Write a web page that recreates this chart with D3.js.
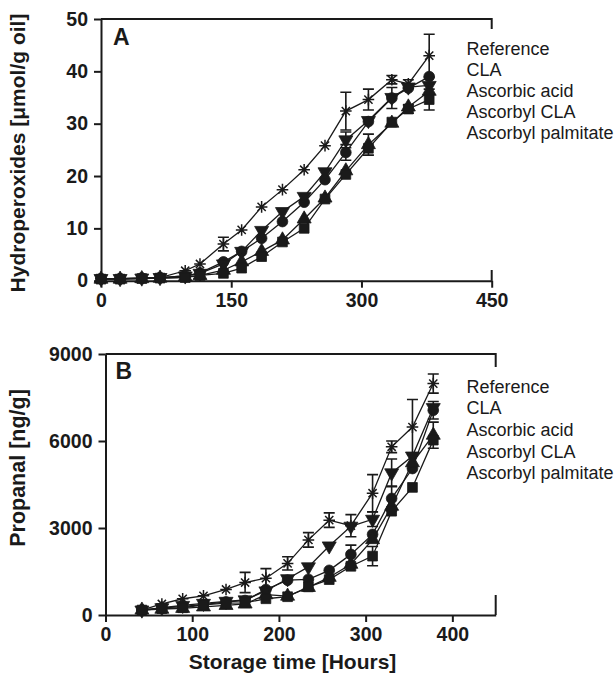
<!DOCTYPE html>
<html><head><meta charset="utf-8">
<script src="https://cdn.jsdelivr.net/npm/d3@7"></script>
<style>
html,body{margin:0;padding:0;background:#fff;}
svg{display:block;font-family:"Liberation Sans",Arial,Helvetica,sans-serif;}
</style></head>
<body>
<svg id="chart" width="616" height="674"></svg>
<script>
// ---------- DATA ----------
const seriesNames = ["Reference", "CLA", "Ascorbic acid", "Ascorbyl CLA", "Ascorbyl palmitate"];
const seriesSymbols = ["asterisk", "circle", "triangleDown", "triangleUp", "square"];

// Panel A: hydroperoxides (µmol/g oil)
const timesA = [0, 22, 47, 68, 97, 114, 141, 162, 185, 209, 234, 258, 282, 308, 335, 354, 378];
const refA   = [0.4, 0.4, 0.5, 0.6, 1.9, 3.2, 7.0, 9.7, 14.1, 17.4, 21.2, 25.8, 32.4, 34.6, 38.4, 37.6, 43.0];
const claA   = [0.4, 0.4, 0.5, 0.6, 0.9, 1.5, 3.6, 5.6, 8.1, 11.3, 15.0, 19.3, 24.5, 30.4, 34.9, 36.8, 39.0];
const ascA   = [0.4, 0.4, 0.5, 0.6, 0.9, 1.4, 3.2, 5.6, 9.6, 13.2, 16.1, 20.8, 26.9, 30.6, 35.0, 37.0, 37.3];
const ascClaA= [0.3, 0.3, 0.4, 0.5, 0.7, 1.0, 2.0, 3.6, 5.6, 7.8, 11.8, 15.8, 21.0, 26.0, 30.1, 33.2, 36.2];
const ascPalA= [0.3, 0.3, 0.4, 0.5, 0.6, 1.0, 1.4, 2.4, 4.6, 7.4, 10.0, 15.6, 20.3, 25.3, 30.3, 32.8, 34.6];
const refAErr    = [0,0,0,0,0,0,1.3,0,0,0,0,0,3.6,2.0,0.8,0.8,4.1];
const claAErr    = [0,0,0,0,0,0,0,0,0,0,0,0,1.5,0,2.0,0,0];
const ascAErr    = [0,0,0,0,0,0,0,0,0,0,0,0,1.5,0,0,0,0];
const ascClaAErr = [0,0,0,0,0,0,0,0,0,0,0,0,0,2.0,0,0,0];
const ascPalAErr = [0,0,0,0,0,0,0,0,0,0,0,0,0,0,0,0.8,2.0];

// Panel B: propanal (ng/g)
const timesB = [42, 65, 89, 113, 139, 161, 185, 210, 234, 258, 283, 308, 330, 354, 378];
const refB   = [170, 380, 560, 660, 880, 1120, 1270, 1780, 2590, 3270, 3080, 4200, 5800, 6480, 7980];
const claB   = [170, 240, 300, 360, 450, 500, 880, 1200, 1230, 1540, 2090, 2780, 4020, 5050, 7060];
const ascB   = [170, 250, 330, 400, 470, 520, 830, 1250, 1660, 2380, 3060, 3300, 4900, 5480, 7150];
const ascClaB= [170, 200, 230, 280, 330, 380, 700, 650, 950, 1300, 1750, 2600, 3750, 5250, 6200];
const ascPalB= [170, 220, 250, 350, 410, 420, 560, 630, 970, 1220, 1680, 2030, 3580, 4400, 6030];
const refBErr    = [0,0,0,0,0,350,330,230,250,250,380,640,200,950,330];
const claBErr    = [0,0,0,0,0,0,0,0,0,0,320,0,430,0,300];
const ascBErr    = [0,0,0,0,0,0,0,0,0,0,0,250,480,0,0];
const ascClaBErr = [0,0,0,0,0,0,0,0,0,0,0,0,0,0,450];
const ascPalBErr = [0,0,0,0,0,0,0,0,0,0,0,330,0,0,0];

const xTicksA = [0, 150, 300, 450];
const yTicksA = [0, 10, 20, 30, 40, 50];
const xTicksB = [0, 100, 200, 300, 400];
const yTicksB = [0, 3000, 6000, 9000];

// ---------- DRAW ----------
const svg = d3.select("#chart");
const ink = "#1a1a1a";

function symbolPath(kind) {
  if (kind === "circle") return d3.symbol(d3.symbolCircle, 90)();
  if (kind === "square") return d3.symbol(d3.symbolSquare, 95)();
  if (kind === "triangleUp") return d3.symbol(d3.symbolTriangle, 85)();
  if (kind === "triangleDown") return d3.symbol(d3.symbolTriangle, 85)();
  return null;
}

function drawPanel(cfg) {
  const g = svg.append("g");
  const x = d3.scaleLinear().domain(cfg.xDomain).range(cfg.xRange);
  const y = d3.scaleLinear().domain(cfg.yDomain).range(cfg.yRange);
  const [x0, x1] = cfg.xRange, [y0, y1] = cfg.yRange;

  g.append("path")
    .attr("d", `M${x0},${y1}H${x1}V${y0}`)
    .attr("fill", "none").attr("stroke", ink).attr("stroke-width", 2);

  const xa = g.append("g").attr("transform", `translate(0,${y0})`)
    .call(d3.axisBottom(x).tickValues(cfg.xTicks).tickFormat(d3.format("d")).tickSize(7).tickSizeOuter(0).tickPadding(5));
  const ya = g.append("g").attr("transform", `translate(${x0},0)`)
    .call(d3.axisLeft(y).tickValues(cfg.yTicks).tickFormat(d3.format("d")).tickSize(7).tickSizeOuter(0).tickPadding(6));
  [xa, ya].forEach(a => {
    a.select(".domain").attr("stroke", ink).attr("stroke-width", 2);
    a.selectAll(".tick line").attr("stroke", ink).attr("stroke-width", 2);
    a.selectAll(".tick text").attr("fill", ink).attr("font-size", 19.5).attr("font-weight", "bold")
      .attr("font-family", "Liberation Sans, Arial, sans-serif");
  });

  cfg.series.forEach((s) => {
    const pts = cfg.times.map((t, i) => ({t, v: s.values[i], e: s.errors[i]}));
    const sg = g.append("g");
    sg.append("path")
      .attr("d", d3.line().x(d => x(d.t)).y(d => y(d.v))(pts))
      .attr("fill", "none").attr("stroke", ink).attr("stroke-width", 1.3);
    pts.filter(d => d.e > 0).forEach(d => {
      const cx = x(d.t), ytop = y(d.v + d.e), ybot = y(d.v - d.e);
      sg.append("path")
        .attr("d", `M${cx},${ytop}V${ybot}M${cx-5.5},${ytop}H${cx+5.5}M${cx-5.5},${ybot}H${cx+5.5}`)
        .attr("fill", "none").attr("stroke", ink).attr("stroke-width", 1.6);
    });
    pts.forEach(d => {
      const cx = x(d.t), cy = y(d.v);
      if (s.symbol === "asterisk") {
        const r = 5.8, q = r * 0.7071;
        sg.append("path")
          .attr("d", `M${cx},${cy-r}V${cy+r}M${cx-r},${cy}H${cx+r}M${cx-q},${cy-q}L${cx+q},${cy+q}M${cx-q},${cy+q}L${cx+q},${cy-q}`)
          .attr("fill", "none").attr("stroke", ink).attr("stroke-width", 1.5);
      } else {
        const rot = s.symbol === "triangleDown" ? " rotate(180)" : "";
        sg.append("path")
          .attr("d", symbolPath(s.symbol))
          .attr("transform", `translate(${cx},${cy})${rot}`)
          .attr("fill", ink).attr("stroke", ink).attr("stroke-width", 0.8);
      }
    });
  });

  g.append("rect").attr("x", cfg.legendBox[0]).attr("y", cfg.legendBox[1])
    .attr("width", cfg.legendBox[2]).attr("height", cfg.legendBox[3]).attr("fill", "#fff");
  seriesNames.forEach((n, i) => {
    g.append("text").attr("x", cfg.legendX).attr("y", cfg.legendY + i * cfg.legendDy)
      .attr("font-size", 18).attr("fill", ink).text(n);
  });

  g.append("text").attr("x", cfg.letterPos[0]).attr("y", cfg.letterPos[1])
    .attr("font-size", 23).attr("font-weight", "bold").attr("fill", ink).text(cfg.letter);

  g.append("text")
    .attr("transform", `translate(${cfg.yTitlePos[0]},${cfg.yTitlePos[1]}) rotate(-90)`)
    .attr("text-anchor", "middle").attr("font-size", cfg.yTitleSize).attr("font-weight", "bold")
    .attr("fill", ink).text(cfg.yTitle);
}

drawPanel({
  xDomain: [0, 450], xRange: [101, 491.7],
  yDomain: [0, 50], yRange: [280.7, 19],
  xTicks: xTicksA, yTicks: yTicksA,
  times: timesA,
  series: [
    {values: refA, errors: refAErr, symbol: seriesSymbols[0]},
    {values: claA, errors: claAErr, symbol: seriesSymbols[1]},
    {values: ascA, errors: ascAErr, symbol: seriesSymbols[2]},
    {values: ascClaA, errors: ascClaAErr, symbol: seriesSymbols[3]},
    {values: ascPalA, errors: ascPalAErr, symbol: seriesSymbols[4]}
  ],
  legendBox: [458, 29, 158, 241],
  legendX: 466.5, legendY: 55, legendDy: 21.1,
  letter: "A", letterPos: [113, 45],
  yTitle: "Hydroperoxides [\u03bcmol/g oil]", yTitlePos: [25, 153], yTitleSize: 21
});

drawPanel({
  xDomain: [0, 450], xRange: [105.5, 495.7],
  yDomain: [0, 9000], yRange: [615, 354],
  xTicks: xTicksB, yTicks: yTicksB,
  times: timesB,
  series: [
    {values: refB, errors: refBErr, symbol: seriesSymbols[0]},
    {values: claB, errors: claBErr, symbol: seriesSymbols[1]},
    {values: ascB, errors: ascBErr, symbol: seriesSymbols[2]},
    {values: ascClaB, errors: ascClaBErr, symbol: seriesSymbols[3]},
    {values: ascPalB, errors: ascPalBErr, symbol: seriesSymbols[4]}
  ],
  legendBox: [462, 367, 154, 228],
  legendX: 466.5, legendY: 392.7, legendDy: 21.65,
  letter: "B", letterPos: [115.5, 379.3],
  yTitle: "Propanal [ng/g]", yTitlePos: [25, 468], yTitleSize: 21.5
});

svg.append("text").attr("x", 292.5).attr("y", 669).attr("text-anchor", "middle")
  .attr("font-size", 21).attr("font-weight", "bold").attr("fill", ink)
  .text("Storage time [Hours]");
</script>
</body></html>
